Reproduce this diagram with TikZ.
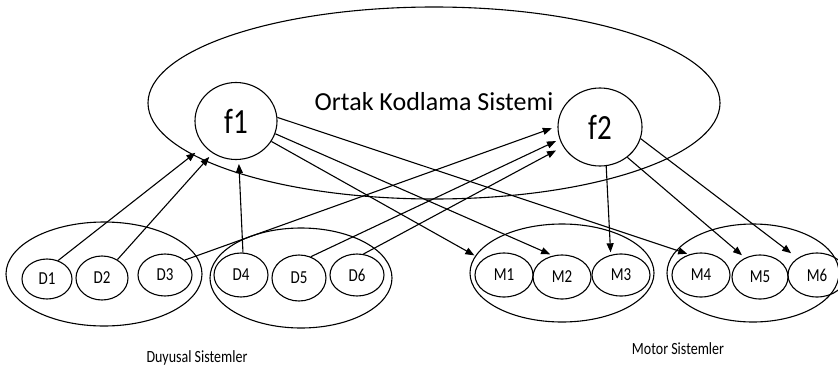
\documentclass[tikz,border=0pt]{standalone}
\usepackage{graphicx}
\usepackage{fontspec}
\setmainfont{Carlito}
\usetikzlibrary{shapes.geometric,arrows.meta}
% labels are set a little taller than wide
\newcommand{\tallbox}[1]{\scalebox{1}[1.22]{#1}}
\begin{document}
\begin{tikzpicture}[x=1pt,y=-1pt,
  oval/.style={ellipse,draw,line width=1.1pt,inner sep=0pt},
  unit/.style={oval,minimum width=56pt,minimum height=44pt,font=\fontsize{15}{15}\selectfont},
  hub/.style={oval,font=\fontsize{29}{29}\selectfont},
  group/.style={oval},
  link/.style={line width=1.1pt,-{Triangle[length=9pt,width=7pt]}},
  caption/.style={font=\fontsize{14}{14}\selectfont}]
\useasboundingbox (0,0) rectangle (838,367);
\clip (0,0) rectangle (838,367);

% shared coding system
\node[group,minimum width=572pt,minimum height=192pt] (core) at (434,103) {};
\node[anchor=base,font=\fontsize{26}{26}\selectfont] (title) at (434,110) {Ortak Kodlama Sistemi};
\node[hub,minimum width=82pt,minimum height=77pt] (f1) at (236,121) {\tallbox{f1}};
\node[hub,minimum width=84pt,minimum height=78pt] (f2) at (600,127) {\tallbox{f2}};

% sensory systems
\node[group,minimum width=196pt,minimum height=104pt] (gD1) at (104,274) {};
\node[group,minimum width=182pt,minimum height=100pt] (gD2) at (301,278) {};
\node[unit,minimum width=50pt,minimum height=40pt] (D1) at (47,279) {\tallbox{D1}};
\node[unit,minimum width=52pt,minimum height=44pt] (D2) at (102,278) {\tallbox{D2}};
\node[unit,minimum width=54pt,minimum height=42pt] (D3) at (165,275) {\tallbox{D3}};
\node[unit,minimum width=54pt,minimum height=44pt] (D4) at (241,275) {\tallbox{D4}};
\node[unit,minimum width=54pt,minimum height=46pt] (D5) at (299,278) {\tallbox{D5}};
\node[unit,minimum width=54pt,minimum height=42pt] (D6) at (357,275) {\tallbox{D6}};
\node[caption] (dcap) at (197,358) {\tallbox{Duyusal Sistemler}};

% motor systems
\node[group,minimum width=184pt,minimum height=98pt] (gM1) at (562,273) {};
\node[group,minimum width=172pt,minimum height=98pt] (gM2) at (753,273) {};
\node[unit,minimum width=58pt,minimum height=44pt] (M1) at (504,275) {\tallbox{M1}};
\node[unit,minimum width=58pt,minimum height=44pt] (M2) at (562,277) {\tallbox{M2}};
\node[unit,minimum width=58pt,minimum height=42pt] (M3) at (621,275) {\tallbox{M3}};
\node[unit,minimum width=58pt,minimum height=44pt] (M4) at (701,275) {\tallbox{M4}};
\node[unit,minimum width=56pt,minimum height=44pt] (M5) at (760,277) {\tallbox{M5}};
\node[unit,minimum width=58pt,minimum height=44pt] (M6) at (817,275) {\tallbox{M6}};
\node[caption] (mcap) at (678,349) {\tallbox{Motor Sistemler}};

% sensory inputs to the coding units
\draw[link,shorten >=11pt] (D1.59) -- (f1.218);
\draw[link,shorten >=5pt]  (D2.50) -- (f1.234);
\draw[link,shorten >=4pt]  (D4.85) -- (f1.274);
\draw[link,shorten >=6pt]  (D3.37) -- (f2.179);
\draw[link,shorten >=4pt]  (D5.61) -- (f2.197);
\draw[link,shorten >=8pt]  (D6.73) -- (f2.208);

% coding units to motor outputs
\draw[link,shorten >=9pt]   (f1.-30) -- (M1.145);
\draw[link,shorten >=3pt]   (f1.-18) -- (M2.113);
\draw[link,shorten >=2pt]   (f1.5)   -- (M4.120);
\draw[link,shorten >=2.5pt] (f2.-81) -- (M3.117);
\draw[link,shorten >=4pt]   (f2.-48) -- (M5.128);
\draw[link,shorten >=8pt]   (f2.-16) -- (M6.139);
\end{tikzpicture}
\end{document}
